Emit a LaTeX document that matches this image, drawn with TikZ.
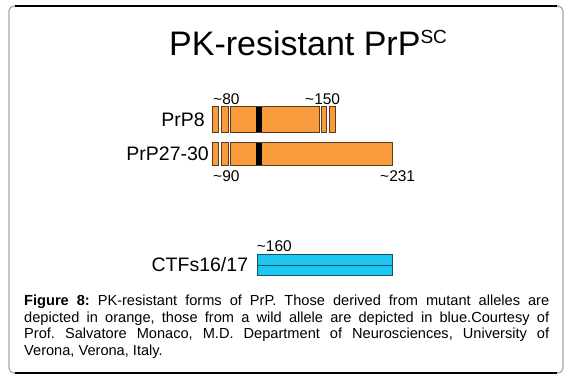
\documentclass[tikz,border=0pt]{standalone}
\usepackage{fontspec}
\setmainfont{Liberation Sans}
\frenchspacing
\definecolor{orng}{HTML}{F89B3C}
\definecolor{orngline}{HTML}{5E3A1C}
\definecolor{cyanfill}{HTML}{1CC8F2}
\definecolor{cyanline}{HTML}{1E4D66}
\begin{document}
\begin{tikzpicture}[x=1pt,y=-1pt,
  seg/.style={draw=orngline,fill=orng,line width=0.9pt},
  band/.style={fill=black,draw=none},
  bseg/.style={draw=cyanline,fill=cyanfill,line width=0.9pt},
  lab/.style={inner sep=0pt,font=\fontsize{19.5}{22}\selectfont},
  num/.style={inner sep=0pt,font=\fontsize{15.5}{18}\selectfont},
  captxt/.style={inner sep=0pt,anchor=base west,font=\fontsize{14.6}{16.5}\selectfont}]
\useasboundingbox (0,0) rectangle (570,381);
\fill[white] (0,0) rectangle (570,381);
% frame
\draw[gray!70,line width=1.2pt,rounded corners=5pt] (9,6) rectangle (563,373);
\draw[black,line width=1.2pt] (15,6) -- (557,6);
\draw[black,line width=1.2pt] (15,373) -- (557,373);
% title
\node[inner sep=0pt,anchor=base west,font=\fontsize{34}{40}\selectfont] (title) at (169,55)
  {PK-resistant PrP\raisebox{12pt}{\fontsize{19}{22}\selectfont SC}};
% PrP8
\node[lab,anchor=base east] (l8) at (205,126.7) {PrP8};
\draw[seg] (212.7,106) rectangle (218.7,132);
\draw[seg] (221,106) rectangle (228.5,132);
\draw[seg] (230.7,106) rectangle (319,132);
\fill[band] (256,106.5) rectangle (261.7,131.5);
\draw[seg] (321.7,106) rectangle (326.7,132);
\draw[seg] (329.3,106) rectangle (335.7,132);
\node[num,anchor=base west] (n80) at (213,104) {\textasciitilde80};
\node[num,anchor=base west] (n150) at (305,104) {\textasciitilde150};
% PrP27-30
\node[lab,anchor=base east] (l27) at (209,160) {PrP27-30};
\draw[seg] (212.7,142) rectangle (218.7,165);
\draw[seg] (221,142) rectangle (228.5,165);
\draw[seg] (230.7,142) rectangle (392.3,165);
\fill[band] (256,142.5) rectangle (261.7,164.5);
\node[num,anchor=base west] (n90) at (213,181) {\textasciitilde90};
\node[num,anchor=base west] (n231) at (380,181) {\textasciitilde231};
% CTFs
\node[lab,anchor=base east] (lc) at (248.3,271) {CTFs16/17};
\draw[bseg] (257.3,254) rectangle (392.7,265);
\draw[bseg] (257.3,265) rectangle (392.7,275.7);
\node[num,anchor=base west] (n160) at (256.7,251) {\textasciitilde160};
% caption
\node[captxt] (c1) at (24,305.5) {\makebox[525pt][s]{\textbf{Figure 8:} PK-resistant forms of PrP. Those derived from mutant alleles are}};
\node[captxt] (c2) at (24,322.2) {\makebox[525pt][s]{depicted in orange, those from a wild allele are depicted in blue.Courtesy of}};
\node[captxt] (c3) at (24,338.9) {\makebox[525pt][s]{Prof. Salvatore Monaco, M.D. Department of Neurosciences, University of}};
\node[captxt] (c4) at (24,355.6) {Verona, Verona, Italy.};
\end{tikzpicture}
\end{document}
